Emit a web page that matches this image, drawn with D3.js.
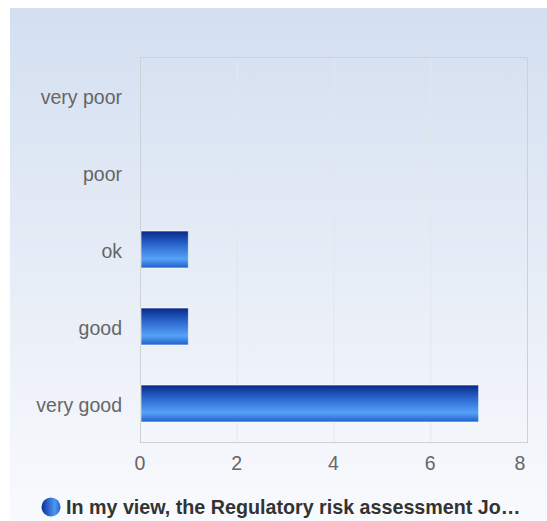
<!DOCTYPE html>
<html>
<head>
<meta charset="utf-8">
<script src="https://cdn.jsdelivr.net/npm/d3@7"></script>
<style>
  html, body { margin: 0; padding: 0; background: #fff; }
  svg { display: block; font-family: "Liberation Sans", Arial, sans-serif; }
</style>
</head>
<body>
<div id="chart"></div>
<script>
// data
var categories = ["very poor", "poor", "ok", "good", "very good"];
var counts = [0, 0, 1, 1, 7];
var xTicks = [0, 2, 4, 6, 8];
var seriesName = "In my view, the Regulatory risk assessment Jo\u2026";

var width = 547, height = 521;
var plot = {left: 140, right: 527, top: 57, bottom: 442};

var svg = d3.select("#chart").append("svg")
    .attr("width", width)
    .attr("height", height);

var defs = svg.append("defs");

var bg = defs.append("linearGradient").attr("id", "bg")
    .attr("x1", 0).attr("y1", 0).attr("x2", 0).attr("y2", 1);
bg.append("stop").attr("offset", "0%").attr("stop-color", "#d3dff0");
bg.append("stop").attr("offset", "100%").attr("stop-color", "#f9fafd");

var barGrad = defs.append("linearGradient").attr("id", "bar")
    .attr("x1", 0).attr("y1", 0).attr("x2", 0).attr("y2", 1);
barGrad.append("stop").attr("offset", "0%").attr("stop-color", "#08278a");
barGrad.append("stop").attr("offset", "35%").attr("stop-color", "#2a64cc");
barGrad.append("stop").attr("offset", "75%").attr("stop-color", "#55a2f8");
barGrad.append("stop").attr("offset", "100%").attr("stop-color", "#1f5fcb");

var dotGrad = defs.append("linearGradient").attr("id", "dot")
    .attr("x1", 0).attr("y1", 0).attr("x2", 1).attr("y2", 0);
dotGrad.append("stop").attr("offset", "0%").attr("stop-color", "#0a2f9a");
dotGrad.append("stop").attr("offset", "70%").attr("stop-color", "#4d98f2");
dotGrad.append("stop").attr("offset", "100%").attr("stop-color", "#2a64cc");

// background panel
svg.append("rect")
    .attr("x", 10).attr("y", 8)
    .attr("width", width - 10).attr("height", height - 8)
    .style("fill", "url(#bg)");

var x = d3.scaleLinear().domain([0, 8]).range([plot.left, plot.right]);
var y = d3.scaleBand().domain(categories)
    .range([plot.top, plot.bottom])
    .paddingInner(0.52).paddingOuter(0.26);

// grid
svg.append("g").selectAll("line")
    .data(xTicks.slice(1, -1))
    .enter().append("line")
    .attr("x1", function(d){ return x(d) + 0.5; })
    .attr("x2", function(d){ return x(d) + 0.5; })
    .attr("y1", plot.top).attr("y2", plot.bottom)
    .style("stroke", "#e3e6eb").style("stroke-width", 1);

svg.append("rect")
    .attr("x", plot.left + 0.5).attr("y", plot.top + 0.5)
    .attr("width", plot.right - plot.left).attr("height", plot.bottom - plot.top)
    .style("fill", "none").style("stroke", "#cdd0d6").style("stroke-width", 1);

// bars
svg.append("g").selectAll("rect")
    .data(categories.map(function(c, i){ return {name: c, value: counts[i]}; })
      .filter(function(d){ return d.value > 0; }))
    .enter().append("rect")
    .attr("x", x(0) + 1)
    .attr("y", function(d){ return y(d.name); })
    .attr("width", function(d){ return x(d.value) - x(0) - 1; })
    .attr("height", y.bandwidth())
    .style("fill", "url(#bar)")
    .style("stroke", "#ffffff").style("stroke-opacity", 0.6).style("stroke-width", 1);

// category labels
svg.append("g").selectAll("text")
    .data(categories)
    .enter().append("text")
    .attr("x", 122)
    .attr("y", function(d){ return y(d) + y.bandwidth() / 2 + 2; })
    .attr("dy", "0.35em")
    .attr("text-anchor", "end")
    .style("font-size", "19.5px").style("fill", "#666")
    .text(function(d){ return d; });

// x tick labels (last one is pulled inside the panel edge)
svg.append("g").selectAll("text")
    .data(xTicks)
    .enter().append("text")
    .attr("x", function(d){ return Math.min(x(d), width - 27); })
    .attr("y", 470)
    .attr("text-anchor", "middle")
    .style("font-size", "19.5px").style("fill", "#666")
    .text(function(d){ return d; });

// legend
svg.append("circle")
    .attr("cx", 51).attr("cy", 507).attr("r", 9.5)
    .style("fill", "url(#dot)");
svg.append("text")
    .attr("x", 66).attr("y", 514)
    .style("font-size", "19.7px").style("font-weight", "bold").style("fill", "#333")
    .text(seriesName);
</script>
</body>
</html>
